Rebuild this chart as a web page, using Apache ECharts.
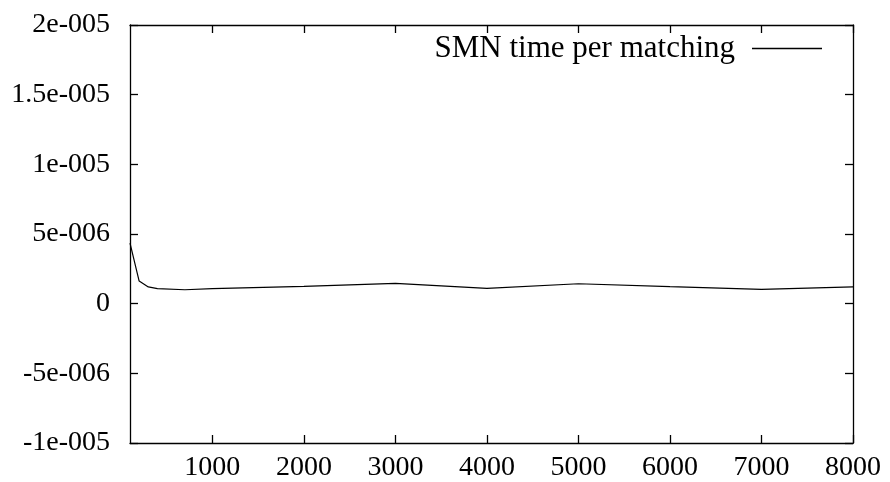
<!DOCTYPE html>
<html>
<head>
<meta charset="utf-8">
<script src="https://cdn.jsdelivr.net/npm/echarts@6/dist/echarts.min.js"></script>
<style>
html,body{margin:0;padding:0;background:#fff;}
#chart{width:890px;height:482px;}
</style>
</head>
<body>
<div id="chart"></div>
<script>
const seriesName = 'SMN time per matching';
const xValues = [100, 200, 300, 400, 700, 1000, 2000, 3000, 4000, 5000, 6000, 7000, 8000];
const yValues = [4.35e-6, 1.62e-6, 1.2e-6, 1.08e-6, 1.0e-6, 1.08e-6, 1.24e-6, 1.46e-6, 1.1e-6, 1.43e-6, 1.22e-6, 1.03e-6, 1.2e-6];
const xTicks = [1000, 2000, 3000, 4000, 5000, 6000, 7000, 8000];
const yTickLabels = ['-1e-005', '-5e-006', '0', '5e-006', '1e-005', '1.5e-005', '2e-005'];

const FONT = 'Liberation Serif';
const FS = 28;
const chart = echarts.init(document.getElementById('chart'), null, {renderer: 'canvas'});
const data = xValues.map((x, i) => [x, yValues[i]]);

const yFmt = v => {
  const k = Math.round((v + 1e-5) / 5e-6);
  return yTickLabels[k] !== undefined ? yTickLabels[k] : '';
};

const axisLineStyle = {show: true, onZero: false, lineStyle: {color: '#000', width: 1.3}};
const tickStyle = {color: '#000', width: 1.3};
chart.setOption({
  animation: false,
  backgroundColor: '#fff',
  grid: {left: 130, right: 37, top: 25, bottom: 38, containLabel: false},
  legend: {
    show: true,
    data: [{name: seriesName, icon: 'rect'}],
    right: 63,
    top: 28,
    align: 'right',
    itemWidth: 70,
    itemHeight: 1.3,
    itemStyle: {color: '#000'},
    textStyle: {fontFamily: FONT, fontSize: 31, color: '#000', padding: [0, 12, 0, 0]}
  },
  xAxis: [{
    type: 'value', position: 'bottom', min: 100, max: 8000,
    axisLine: axisLineStyle,
    axisTick: {show: true, inside: true, length: 8, lineStyle: tickStyle, customValues: xTicks},
    axisLabel: {show: true, customValues: xTicks, formatter: v => String(v), fontFamily: FONT, fontSize: FS, color: '#000', margin: 11},
    splitLine: {show: false}
  }, {
    type: 'value', position: 'top', min: 100, max: 8000,
    axisLine: axisLineStyle,
    axisTick: {show: true, inside: true, length: 8, lineStyle: tickStyle, customValues: xTicks},
    axisLabel: {show: false},
    splitLine: {show: false}
  }],
  yAxis: [{
    type: 'value', position: 'left', min: -1e-5, max: 2e-5, interval: 5e-6,
    axisLine: axisLineStyle,
    axisTick: {show: true, inside: true, length: 8, lineStyle: tickStyle},
    axisLabel: {show: true, formatter: yFmt, fontFamily: FONT, fontSize: FS, color: '#000', margin: 20},
    splitLine: {show: false}
  }, {
    type: 'value', position: 'right', min: -1e-5, max: 2e-5, interval: 5e-6,
    axisLine: axisLineStyle,
    axisTick: {show: true, inside: true, length: 8, lineStyle: tickStyle},
    axisLabel: {show: false},
    splitLine: {show: false}
  }],
  series: [{
    name: seriesName,
    type: 'line',
    xAxisIndex: 0,
    yAxisIndex: 0,
    data: data,
    symbol: 'none',
    showSymbol: false,
    lineStyle: {color: '#000', width: 1.2},
    itemStyle: {color: '#000'}
  }]
});
</script>
</body>
</html>
